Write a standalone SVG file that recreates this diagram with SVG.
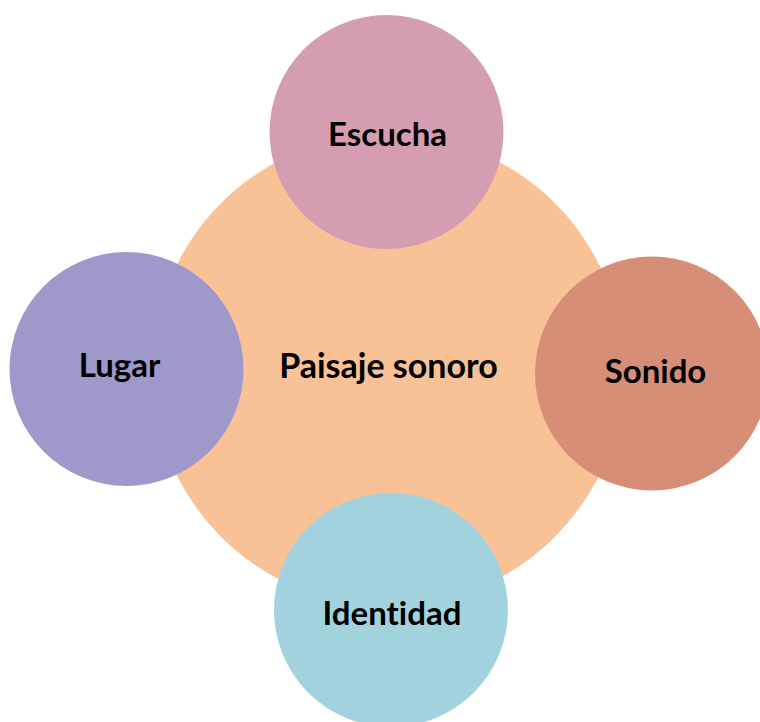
<svg xmlns="http://www.w3.org/2000/svg" width="760" height="722" viewBox="0 0 760 722">
<style>
.lbl{font-family:Lato,"Open Sans","Liberation Sans",sans-serif;font-weight:700;font-size:33px;fill:#000;text-anchor:middle;font-variant-ligatures:none;font-feature-settings:"liga" 0,"dlig" 0}
.big{font-size:34px}
</style>
<rect width="760" height="722" fill="#fff"/>
<g id="center"><circle cx="388" cy="370" r="236" fill="#F8C196"/><text class="lbl big" x="388.5" y="378">Paisaje sonoro</text></g>
<g id="connectors"></g>
<g id="escucha"><circle cx="386.5" cy="132" r="117" fill="#D49DB2"/><text class="lbl" x="387.5" y="146">Escucha</text></g>
<g id="lugar"><circle cx="126.5" cy="369" r="117" fill="#9E99CA"/><text class="lbl" x="119.5" y="377">Lugar</text></g>
<g id="sonido"><circle cx="652" cy="373.5" r="117" fill="#D68E76"/><text class="lbl" x="655.5" y="383">Sonido</text></g>
<g id="identidad"><circle cx="391" cy="610" r="117" fill="#A3D2DF"/><text class="lbl" x="392" y="625">Identidad</text></g>
</svg>
